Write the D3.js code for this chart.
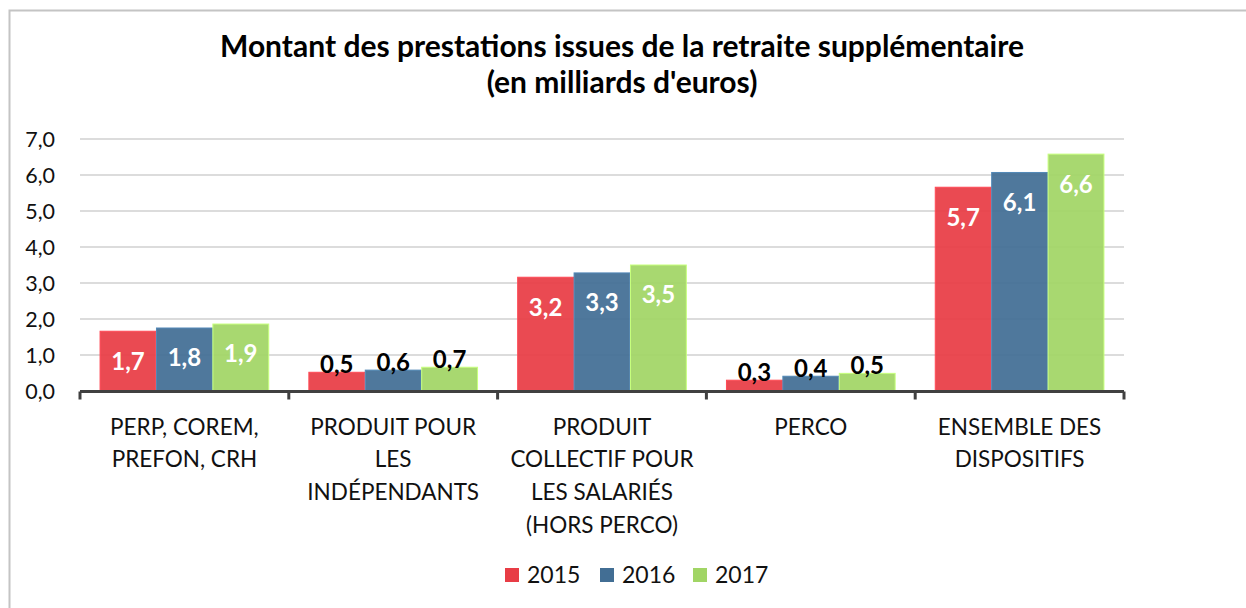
<!DOCTYPE html>
<html>
<head>
<meta charset="utf-8">
<script src="https://cdn.jsdelivr.net/npm/d3@7"></script>
<style>
  body { margin: 0; background: #fff; }
  svg { display: block; font-family: Lato, "Open Sans", sans-serif; }
</style>
</head>
<body>
<svg id="chart" width="1246" height="608"></svg>
<script>
// Data
var categories = [
    ['PERP, COREM,', 'PREFON, CRH'],
    ['PRODUIT POUR', 'LES', 'INDÉPENDANTS'],
    ['PRODUIT', 'COLLECTIF POUR', 'LES SALARIÉS', '(HORS PERCO)'],
    ['PERCO'],
    ['ENSEMBLE DES', 'DISPOSITIFS']
];
var years = ['2015', '2016', '2017'];
var values2015 = [1.66, 0.52, 3.16, 0.30, 5.66];
var values2016 = [1.75, 0.58, 3.28, 0.41, 6.07];
var values2017 = [1.86, 0.66, 3.50, 0.49, 6.58];
var yTicks = [0, 1, 2, 3, 4, 5, 6, 7];
var colors = ['#e83c45', '#426e94', '#a1d565'];

var series = [values2015, values2016, values2017];

var svg = d3.select('#chart');
var margin = {top: 139, left: 80, right: 122, bottom: 217};
var width = 1246 - margin.left - margin.right,
    height = 608 - margin.top - margin.bottom;

var fmt = function(v) { return d3.format('.1f')(v).replace('.', ','); };

// Outer frame
svg.append('rect')
    .attr('x', 9.5).attr('y', 10.5)
    .attr('width', 1300).attr('height', 700)
    .attr('fill', 'none')
    .attr('stroke', '#c4c4c4')
    .attr('stroke-width', 2);

// Title
var title = svg.append('text')
    .attr('text-anchor', 'middle')
    .attr('font-weight', 'bold')
    .attr('font-size', 30)
    .attr('fill', '#000');
title.append('tspan').attr('x', 622).attr('y', 57)
    .text('Montant des prestations issues de la retraite supplémentaire');
title.append('tspan').attr('x', 622).attr('y', 93)
    .text("(en milliards d'euros)");

var g = svg.append('g')
    .attr('transform', 'translate(' + margin.left + ',' + margin.top + ')');

var x0 = d3.scaleBand()
    .domain(d3.range(categories.length))
    .range([0, width])
    .paddingInner(0)
    .paddingOuter(0);

var groupPad = 19.5;
var x1 = d3.scaleBand()
    .domain(d3.range(years.length))
    .range([groupPad, x0.bandwidth() - groupPad])
    .padding(0.01);

var y = d3.scaleLinear()
    .domain([0, 7])
    .range([height, 0]);

// Gridlines
g.selectAll('line.grid')
    .data(yTicks.slice(1))
    .enter().append('line')
    .attr('class', 'grid')
    .attr('x1', 0).attr('x2', width)
    .attr('y1', function(d) { return y(d); })
    .attr('y2', function(d) { return y(d); })
    .attr('stroke', '#d0d0d0')
    .attr('stroke-width', 1.5);

// Y labels
g.selectAll('text.ytick')
    .data(yTicks)
    .enter().append('text')
    .attr('class', 'ytick')
    .attr('x', -25)
    .attr('y', function(d) { return y(d); })
    .attr('dy', '0.35em')
    .attr('text-anchor', 'end')
    .attr('font-size', 21.5)
    .attr('fill', '#111')
    .text(fmt);

// Bars
var groups = g.selectAll('g.cat')
    .data(categories)
    .enter().append('g')
    .attr('class', 'cat')
    .attr('transform', function(d, i) { return 'translate(' + x0(i) + ',0)'; });

groups.each(function(d, i) {
    var cg = d3.select(this);
    series.forEach(function(vals, s) {
        var v = vals[i];
        cg.append('rect')
            .attr('x', x1(s))
            .attr('y', y(v))
            .attr('width', x1.bandwidth())
            .attr('height', y(0) - y(v))
            .attr('fill', colors[s])
            .attr('fill-opacity', 0.93)
            .attr('stroke', d3.color(colors[s]).brighter(0.6))
            .attr('stroke-width', 1);

        var inside = v >= 1;
        cg.append('text')
            .attr('x', x1(s) + x1.bandwidth() / 2)
            .attr('y', inside ? y(v) + 30 : y(v) - 8)
            .attr('dy', '0.35em')
            .attr('text-anchor', 'middle')
            .attr('font-weight', 'bold')
            .attr('font-size', 24)
            .attr('fill', inside ? '#fff' : '#000')
            .text(fmt(v));
    });
});

// X axis
var axisY = y(0) + 0.5;
g.append('line')
    .attr('x1', 0).attr('x2', width)
    .attr('y1', axisY).attr('y2', axisY)
    .attr('stroke', '#404040')
    .attr('stroke-width', 3);

g.selectAll('line.xtick')
    .data(d3.range(categories.length + 1))
    .enter().append('line')
    .attr('class', 'xtick')
    .attr('x1', function(d) { return d * x0.bandwidth(); })
    .attr('x2', function(d) { return d * x0.bandwidth(); })
    .attr('y1', axisY)
    .attr('y2', axisY + 8)
    .attr('stroke', '#404040')
    .attr('stroke-width', 3);

// Category labels
groups.append('text')
    .attr('text-anchor', 'middle')
    .attr('font-size', 22.5)
    .attr('fill', '#111')
    .each(function(lines) {
        var t = d3.select(this);
        lines.forEach(function(line, k) {
            t.append('tspan')
                .attr('x', x0.bandwidth() / 2)
                .attr('y', axisY + 43 + k * 32.7)
                .text(line);
        });
    });

// Legend
var legendX = [505, 600, 693];
var legend = svg.selectAll('g.legend')
    .data(years)
    .enter().append('g')
    .attr('class', 'legend')
    .attr('transform', function(d, i) { return 'translate(' + legendX[i] + ',568)'; });

legend.append('rect')
    .attr('width', 14).attr('height', 14)
    .attr('fill', function(d, i) { return colors[i]; });

legend.append('text')
    .attr('x', 22)
    .attr('y', 7)
    .attr('dy', '0.35em')
    .attr('font-size', 23)
    .attr('fill', '#111')
    .text(function(d) { return d; });
</script>
</body>
</html>
